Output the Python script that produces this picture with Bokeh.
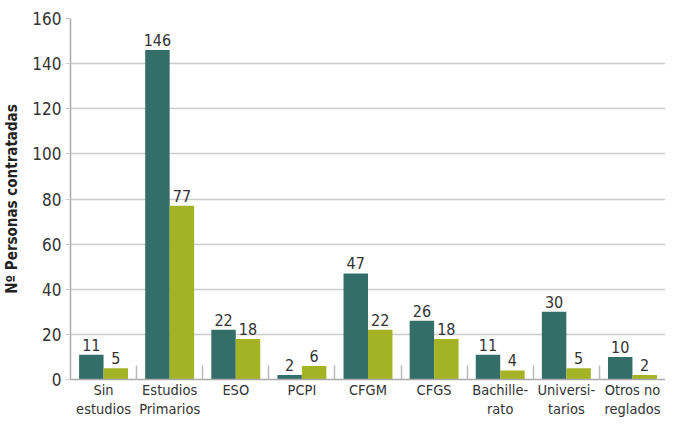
from bokeh.plotting import figure
from bokeh.models import FixedTicker, ColumnDataSource, LabelSet
from bokeh.core.properties import value
from bokeh.embed import file_html
from bokeh.resources import INLINE

categories = ["Sin\nestudios", "Estudios\nPrimarios", "ESO", "PCPI", "CFGM", "CFGS",
              "Bachille-\nrato", "Universi-\ntarios", "Otros no\nreglados"]
serie_a = [11, 146, 22, 2, 47, 26, 11, 30, 10]
serie_b = [5, 77, 18, 6, 22, 18, 4, 5, 2]
y_ticks = [0, 20, 40, 60, 80, 100, 120, 140, 160]

FONT = "DejaVu Sans Condensed"
TEAL = "#336e68"
OLIVE = "#a3b323"
TXT = "#333333"

n = len(categories)
centers = [i + 0.5 for i in range(n)]
bw = 0.37
xa = [c - bw / 2 for c in centers]
xb = [c + bw / 2 for c in centers]

p = figure(width=665, height=419, x_range=(0, n), y_range=(0, 160),
           output_backend="svg", toolbar_location=None,
           min_border_top=18, min_border_right=0, min_border_left=0, min_border_bottom=0)
p.outline_line_color = None
p.background_fill_color = "white"

src_a = ColumnDataSource(dict(x=xa, y=serie_a, t=[str(v) for v in serie_a]))
src_b = ColumnDataSource(dict(x=xb, y=serie_b, t=[str(v) for v in serie_b]))
p.vbar(x="x", top="y", bottom=0, width=bw, source=src_a, fill_color=TEAL, line_color=None)
p.vbar(x="x", top="y", bottom=0, width=bw, source=src_b, fill_color=OLIVE, line_color=None)

for s in (src_a, src_b):
    p.add_layout(LabelSet(x="x", y="y", text="t", source=s, text_align="center",
                          text_baseline="bottom", y_offset=4, text_font=value(FONT),
                          text_font_size="16px", text_color=TXT))

p.xgrid.visible = False
p.ygrid.grid_line_color = "#cccccc"
p.ygrid.grid_line_width = 1.5

# x axis
p.xaxis.ticker = FixedTicker(ticks=centers, minor_ticks=list(range(1, n)))
p.xaxis.major_label_overrides = {c: lab for c, lab in zip(centers, categories)}
p.xaxis.major_tick_line_color = None
p.xaxis.major_tick_in = 0
p.xaxis.major_tick_out = 0
p.xaxis.minor_tick_in = 14
p.xaxis.minor_tick_out = 0
p.xaxis.minor_tick_line_color = "#bbbbbb"
p.xaxis.minor_tick_line_width = 1.5
p.xaxis.axis_line_color = "#aaaaaa"
p.xaxis.axis_line_width = 1.5
p.xaxis.major_label_text_font = FONT
p.xaxis.major_label_text_font_size = "14.5px"
p.xaxis.major_label_text_color = TXT
p.xaxis.major_label_standoff = 2

# y axis
p.yaxis.ticker = FixedTicker(ticks=y_ticks)
p.yaxis.minor_tick_line_color = None
p.yaxis.major_tick_in = 0
p.yaxis.major_tick_out = 5
p.yaxis.major_tick_line_color = "#cccccc"
p.yaxis.axis_line_color = "#aaaaaa"
p.yaxis.axis_line_width = 1.5
p.yaxis.major_label_text_font = FONT
p.yaxis.major_label_text_font_size = "17px"
p.yaxis.major_label_text_color = TXT
p.yaxis.major_label_standoff = 4
p.yaxis.axis_label = "Nº Personas contratadas"
p.yaxis.axis_label_text_font = FONT
p.yaxis.axis_label_text_font_size = "15px"
p.yaxis.axis_label_text_font_style = "bold"
p.yaxis.axis_label_text_color = "#222222"
p.yaxis.axis_label_standoff = 8

open("out.html", "w").write(file_html(p, INLINE))
